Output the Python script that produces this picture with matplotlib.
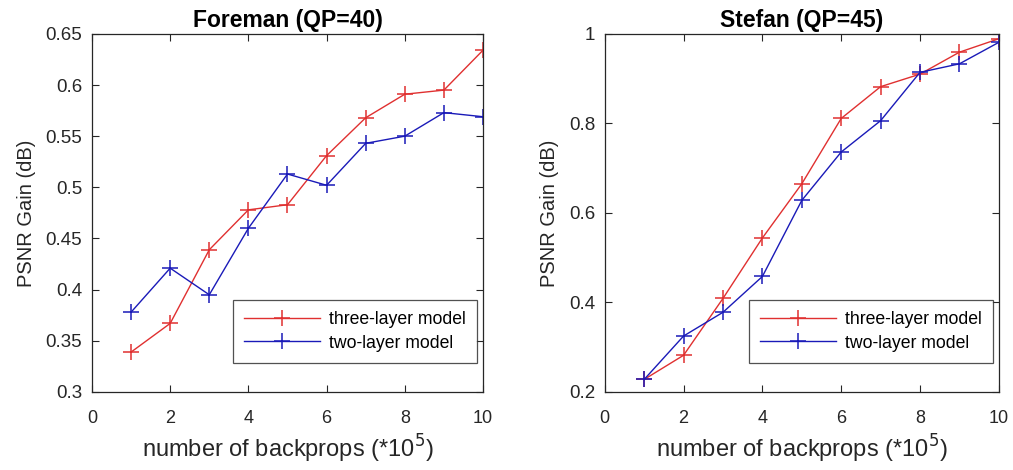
import matplotlib
matplotlib.use("Agg")
import matplotlib.pyplot as plt

plt.rcParams['font.family'] = ['Liberation Sans', 'DejaVu Sans']

backprops = [1, 2, 3, 4, 5, 6, 7, 8, 9, 10]

foreman_three = [0.339, 0.367, 0.439, 0.478, 0.483, 0.531, 0.568, 0.591, 0.595, 0.634]
foreman_two = [0.378, 0.421, 0.395, 0.460, 0.513, 0.502, 0.543, 0.550, 0.573, 0.569]

stefan_three = [0.228, 0.282, 0.409, 0.544, 0.665, 0.811, 0.882, 0.910, 0.959, 0.989]
stefan_two = [0.228, 0.325, 0.378, 0.458, 0.628, 0.736, 0.806, 0.914, 0.933, 0.981]

red = '#e03030'
blue = '#1a1ab8'
dark = '#262626'


def draw_panel(ax, title, three, two, ylim, yticks, yticklabels):
    ax.plot(backprops, three, color=red, marker='+', markersize=11, mew=1.1, lw=1.0,
            label='three-layer model')
    ax.plot(backprops, two, color=blue, marker='+', markersize=11, mew=1.1, lw=1.0,
            label='two-layer model')
    ax.set_xlim(0, 10)
    ax.set_ylim(*ylim)
    ax.set_xticks([0, 2, 4, 6, 8, 10])
    ax.set_yticks(yticks)
    ax.set_yticklabels(yticklabels)
    ax.tick_params(direction='in', top=True, right=True, length=5, colors=dark)
    ax.tick_params(axis='x', labelsize=13, pad=13)
    ax.tick_params(axis='y', labelsize=13.5, pad=7)
    for s in ax.spines.values():
        s.set_linewidth(0.9)
        s.set_color(dark)
    ax.set_title(title, fontsize=16.5, fontweight='bold', pad=5)
    ax.set_xlabel('number of backprops (*10$^5$)', fontsize=17, color=dark, labelpad=4)
    ax.set_ylabel('PSNR Gain (dB)', fontsize=14.5, color=dark, labelpad=7)
    leg = ax.legend(loc='lower right', bbox_to_anchor=(0.985, 0.081), borderaxespad=0,
                    fontsize=12.7, frameon=True, fancybox=False, edgecolor=dark,
                    handlelength=4.3, handletextpad=0.5, borderpad=0.65,
                    labelspacing=0.35)
    leg.get_frame().set_linewidth(0.9)


fig = plt.figure(figsize=(10.13, 4.70), dpi=100)
ax1 = fig.add_axes([0.0908, 0.166, 0.386, 0.762])
ax2 = fig.add_axes([0.597, 0.166, 0.389, 0.762])

draw_panel(ax1, 'Foreman (QP=40)', foreman_three, foreman_two, (0.3, 0.65),
           [0.3, 0.35, 0.4, 0.45, 0.5, 0.55, 0.6, 0.65],
           ['0.3', '0.35', '0.4', '0.45', '0.5', '0.55', '0.6', '0.65'])
draw_panel(ax2, 'Stefan (QP=45)', stefan_three, stefan_two, (0.2, 1.0),
           [0.2, 0.4, 0.6, 0.8, 1.0],
           ['0.2', '0.4', '0.6', '0.8', '1'])

fig.savefig('out.png', dpi=100)
